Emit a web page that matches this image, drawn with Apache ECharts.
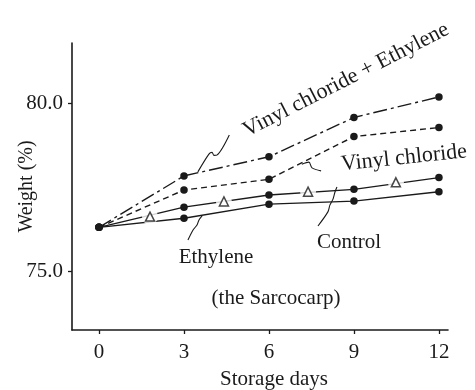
<!DOCTYPE html>
<html><head><meta charset="utf-8">
<script src="https://cdn.jsdelivr.net/npm/echarts@6/dist/echarts.min.js"></script>
<style>html,body{margin:0;padding:0;background:#fff}#c{width:475px;height:390px}</style>
</head><body><div id="c"></div>
<script>
const days = [0, 3, 6, 9, 12];
const xTicks = [0, 3, 6, 9, 12];
const yTicks = [75, 80];
const vinylEthylene = [76.3, 77.83, 78.40, 79.57, 80.18];
const vinyl = [76.3, 77.41, 77.73, 79.0, 79.27];
const triLine = [76.3, 76.90, 77.26, 77.43, 77.78];
const lowerLine = [76.3, 76.57, 76.99, 77.08, 77.36];
const triDays = [1.8, 4.41, 7.38, 10.48];
const triValues = [76.62, 77.07, 77.36, 77.64];
// leader lines (annotation pointers), in data coordinates
const leaderVE = [[3.49,77.95],[3.88,78.48],[3.99,78.53],[4.06,78.44],[4.16,78.45],[4.60,79.05]];
const leaderV = [[7.16,78.18],[7.41,78.24],[7.52,78.07],[7.84,77.98]];
const leaderCtl = [[7.73,76.34],[8.08,76.76],[8.15,76.96],[8.26,77.14],[8.33,77.35],[8.40,77.50]];
const leaderEth = [[3.14,75.92],[3.32,76.22],[3.46,76.37],[3.53,76.52],[3.64,76.64]];

const pair = (xs, ys) => xs.map((x, i) => [x, ys[i]]);
const F = 'Liberation Serif, Times New Roman, serif';
const black = '#1a1a1a';
const chart = echarts.init(document.getElementById('c'));
const lineS = (name, vals, type) => ({
  name, type: 'line', data: pair(days, vals), symbol: 'circle', symbolSize: 7.5,
  itemStyle: {color: black}, lineStyle: {color: black, width: 1.4, type}, z: 3, animation: false
});
const leader = (d) => ({type: 'line', data: d, symbol: 'none', smooth: 0.3,
  lineStyle: {color: black, width: 1.1}, z: 2, animation: false, silent: true});
chart.setOption({
  backgroundColor: '#fff',
  animation: false,
  grid: {left: 72, right: 27, top: 43, bottom: 60, containLabel: false, outerBoundsMode: 'none'},
  xAxis: {
    type: 'value', min: -0.953, max: 12.32,
    name: 'Storage days', nameLocation: 'middle', nameGap: 39, nameMoveOverlap: false,
    nameTextStyle: {fontFamily: F, fontSize: 21, color: black, padding: [0, 0, 0, 28]},
    axisLine: {onZero: false, lineStyle: {color: black, width: 1.6}},
    axisTick: {customValues: xTicks, length: 4, lineStyle: {color: black, width: 1.3}},
    axisLabel: {customValues: xTicks, fontFamily: F, fontSize: 21, color: black, margin: 12},
    splitLine: {show: false}
  },
  yAxis: {
    type: 'value', min: 73.244, max: 81.786,
    name: 'Weight (%)', nameLocation: 'middle', nameGap: 35, nameRotate: 90, nameMoveOverlap: false,
    nameTextStyle: {fontFamily: F, fontSize: 20, color: black},
    axisLine: {show: true, onZero: false, lineStyle: {color: black, width: 1.6}},
    axisTick: {show: true, customValues: yTicks, length: 4, lineStyle: {color: black, width: 1.3}},
    axisLabel: {customValues: yTicks, fontFamily: F, fontSize: 21, color: black, margin: 9,
      formatter: v => v.toFixed(1)},
    splitLine: {show: false}
  },
  series: [
    lineS('Vinyl chloride + Ethylene', vinylEthylene, [14, 4, 3, 4]),
    lineS('Vinyl chloride', vinyl, [6, 4]),
    lineS('Control', triLine, 'solid'),
    lineS('Ethylene', lowerLine, 'solid'),
    {type: 'scatter', data: pair(triDays, triValues), symbol: 'circle', symbolSize: 16,
      itemStyle: {color: '#fff'}, z: 4, animation: false, silent: true},
    {type: 'scatter', data: pair(triDays, triValues), symbol: 'triangle', symbolSize: 9,
      itemStyle: {color: '#fff', borderColor: black, borderWidth: 1.5}, z: 5, animation: false},
    leader(leaderVE), leader(leaderV), leader(leaderCtl), leader(leaderEth)
  ],
  graphic: [
    {type: 'text', x: 346, y: 80, rotation: 27 * Math.PI / 180,
      style: {text: 'Vinyl chloride + Ethylene', font: '22px ' + F, fill: black, align: 'center', verticalAlign: 'middle'}},
    {type: 'text', x: 404, y: 158, rotation: 6 * Math.PI / 180,
      style: {text: 'Vinyl chloride', font: '22px ' + F, fill: black, align: 'center', verticalAlign: 'middle'}},
    {type: 'text', x: 216, y: 257,
      style: {text: 'Ethylene', font: '21px ' + F, fill: black, align: 'center', verticalAlign: 'middle'}},
    {type: 'text', x: 349, y: 242,
      style: {text: 'Control', font: '21px ' + F, fill: black, align: 'center', verticalAlign: 'middle'}},
    {type: 'text', x: 276, y: 298,
      style: {text: '(the Sarcocarp)', font: '21px ' + F, fill: black, align: 'center', verticalAlign: 'middle'}}
  ]
});
</script></body></html>
